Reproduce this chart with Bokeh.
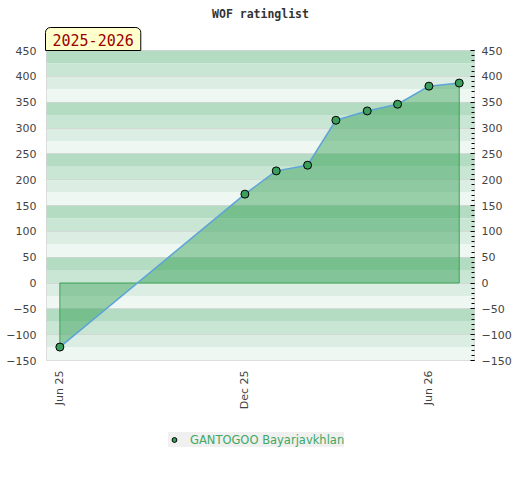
import math
import numpy as np
import pandas as pd
from bokeh.plotting import figure
from bokeh.layouts import column
from bokeh.models import (Range1d, LinearAxis, FixedTicker, DatetimeTickFormatter,
                          BoxAnnotation, Title, Legend, LegendItem, ColumnDataSource)
from bokeh.embed import file_html
from bokeh.resources import INLINE

# ---- data ----
title_text = "WOF ratinglist"
season_text = "2025-2026"
player = "GANTOGOO Bayarjavkhlan"
dates = ["2025-06-01", "2025-12-01", "2026-01-01", "2026-02-01", "2026-03-01",
         "2026-04-01", "2026-05-01", "2026-06-01", "2026-07-01"]
ratings = [-124, 172, 217, 228, 315, 333, 346, 381, 387]
y_ticks = [-150, -100, -50, 0, 50, 100, 150, 200, 250, 300, 350, 400, 450]
y_minor = list(range(-150, 451, 10))
x_tick_dates = ["2025-06-01", "2025-12-01", "2026-06-01"]
band_colors = ["#b3dcc2", "#c9e6d5", "#dcede3", "#eef7f2"]


def ms(s):
    return pd.Timestamp(s).value / 1e6


x_start = ms("2025-05-18 19:00")
x_end = ms("2026-07-16 02:00")
xs = [ms(d) for d in dates]
zeros = [0] * len(ratings)

src = ColumnDataSource(dict(x=xs, y=ratings, z=zeros))

W = 516
p = figure(width=W, height=420, x_axis_type="datetime",
           x_range=Range1d(x_start, x_end), y_range=Range1d(-150, 450),
           output_backend="svg", toolbar_location=None,
           min_border_left=46, min_border_right=W - 474, min_border_top=50, min_border_bottom=60,
           background_fill_color="white", border_fill_color="white",
           outline_line_color="#d6d6d6")

# background bands
band_tops = np.arange(450, -150, -25)
for i, t in enumerate(band_tops):
    p.add_layout(BoxAnnotation(bottom=float(t - 25), top=float(t),
                               fill_color=band_colors[i % 4], fill_alpha=1.0,
                               line_color=None, level="image"))

p.xgrid.visible = False
p.ygrid.ticker = FixedTicker(ticks=y_ticks)
p.ygrid.grid_line_color = "#cccccc"
p.ygrid.grid_line_alpha = 0.6

# area
p.varea(x="x", y1="y", y2="z", source=src, fill_color="#2e9e4f", fill_alpha=0.45)
p.line(x=[xs[0], xs[0], xs[-1], xs[-1]], y=[ratings[0], 0, 0, ratings[-1]],
       line_color="#3aa655", line_width=1)
p.line(x="x", y="y", source=src, line_color="#5ea3d8", line_width=1.5)
pts_style = dict(size=8, fill_color="#3a9e5c", line_color="black", line_width=1)
p.scatter(x="x", y="y", source=src, **pts_style)

# axes
lab_font = "DejaVu Sans"
p.yaxis.ticker = FixedTicker(ticks=y_ticks)
ax = p.yaxis[0]
ax.axis_line_color = None
ax.major_tick_in = 0
ax.major_tick_out = 0
ax.minor_tick_in = 0
ax.minor_tick_out = 0
ax.major_label_standoff = 10
ax.major_label_text_font = lab_font
ax.major_label_text_font_size = "11px"
ax.major_label_text_color = "#444444"

ra = LinearAxis(ticker=FixedTicker(ticks=y_ticks, minor_ticks=y_minor))
ra.axis_line_color = None
ra.major_tick_in = 4
ra.major_tick_out = 0
ra.minor_tick_in = 3
ra.minor_tick_out = 0
ra.major_tick_line_color = "black"
ra.minor_tick_line_color = "black"
ra.major_label_standoff = 7
ra.major_label_text_font = lab_font
ra.major_label_text_font_size = "11px"
ra.major_label_text_color = "#444444"
p.add_layout(ra, "right")

xa = p.xaxis[0]
xa.ticker = FixedTicker(ticks=[ms(d) for d in x_tick_dates])
xa.formatter = DatetimeTickFormatter(days="%b %y", months="%b %y", years="%b %y")
xa.major_label_orientation = math.pi / 2
xa.axis_line_color = None
xa.major_tick_in = 0
xa.major_tick_out = 0
xa.minor_tick_in = 0
xa.minor_tick_out = 0
xa.major_label_standoff = 10
xa.major_label_text_font = lab_font
xa.major_label_text_font_size = "11px"
xa.major_label_text_color = "#444444"

# season tab (nearest the frame) and title
p.add_layout(Title(text=season_text, align="left", offset=-1,
                   text_font="DejaVu Sans Mono", text_font_size="15px",
                   text_font_style="normal", text_color="#990000",
                   background_fill_color="#ffffcc",
                   border_line_color="black", border_line_width=1,
                   padding=dict(left=7, right=7, top=6, bottom=5),
                   border_radius=(5, 5, 0, 0), standoff=0), "above")
p.add_layout(Title(text=title_text, align="center", standoff=9,
                   text_font="DejaVu Sans Mono", text_font_style="bold",
                   text_font_size="11.5px", text_color="#333333"), "above")

# legend strip
p2 = figure(width=W, height=60, x_range=Range1d(0, 1), y_range=Range1d(0, 1),
            x_axis_location=None, y_axis_location=None,
            output_backend="svg", toolbar_location=None, min_border=0,
            outline_line_color=None, background_fill_color="white",
            border_fill_color="white")
p2.grid.visible = False
r2 = p2.scatter(x="x", y="y", source=src, size=7, fill_color="#3a9e5c",
                line_color="black", line_width=1)
legend = Legend(items=[LegendItem(label=player, renderers=[r2])],
                location=(122, 60 - 27), orientation="horizontal",
                background_fill_color="#f0f0f0", background_fill_alpha=1.0,
                border_line_color=None, padding=5, margin=0,
                glyph_width=12, glyph_height=15, label_height=15, label_standoff=10,
                label_text_font=lab_font, label_text_font_size="11.5px",
                label_text_color="#3fa862")
p2.add_layout(legend)

layout = column(p, p2, spacing=0)
open("out.html", "w").write(file_html(layout, INLINE))
